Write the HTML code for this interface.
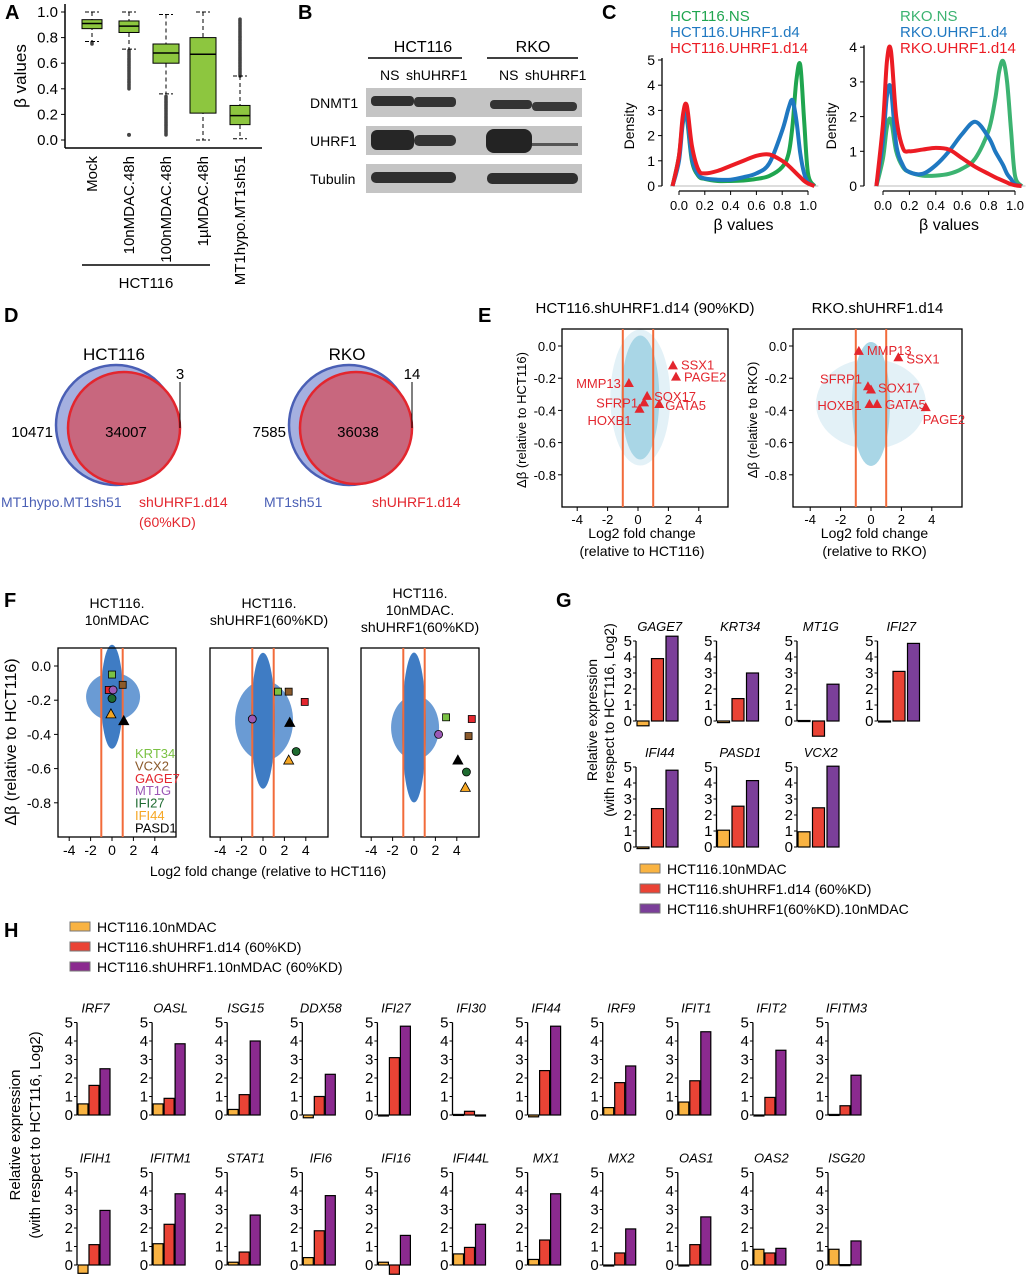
<!DOCTYPE html>
<html><head><meta charset="utf-8"><style>
body{margin:0;background:#fff}
svg{display:block;font-family:"Liberation Sans",Arial,sans-serif}
</style></head><body>
<svg id="fig" width="1035" height="1280" viewBox="0 0 1035 1280" xmlns="http://www.w3.org/2000/svg">
<g font-weight="bold" font-size="20">
<text x="5" y="19">A</text>
<text x="298" y="19">B</text>
<text x="602" y="19">C</text>
<text x="4" y="322">D</text>
<text x="478" y="322">E</text>
<text x="4" y="607">F</text>
<text x="556" y="607">G</text>
<text x="4" y="937">H</text>
</g>
<g font-size="14">
<text x="423" y="52" text-anchor="middle" font-size="16">HCT116</text>
<line x1="368" y1="58" x2="462" y2="58" stroke="#000" stroke-width="1.5"/>
<text x="533" y="52" text-anchor="middle" font-size="16">RKO</text>
<line x1="487" y1="58" x2="578" y2="58" stroke="#000" stroke-width="1.5"/>
<text x="380" y="80">NS</text><text x="406" y="80">shUHRF1</text>
<text x="499" y="80">NS</text><text x="525" y="80">shUHRF1</text>
<text x="310" y="108">DNMT1</text><text x="310" y="146">UHRF1</text><text x="310" y="184">Tubulin</text>
<rect x="366" y="88" width="216" height="29" fill="#c4c4c4"/>
<rect x="366" y="126" width="216" height="29" fill="#c4c4c4"/>
<rect x="366" y="164" width="216" height="29" fill="#c4c4c4"/>
<rect x="371" y="96" width="43" height="10" rx="4" fill="#2e2e2e"/><rect x="414" y="97" width="42" height="10" rx="4" fill="#333"/>
<rect x="490" y="100" width="42" height="9" rx="4" fill="#333"/><rect x="532" y="102" width="45" height="9" rx="4" fill="#383838"/>
<rect x="371" y="130" width="43" height="20" rx="6" fill="#262626"/><rect x="414" y="135" width="42" height="11" rx="5" fill="#333"/>
<rect x="486" y="129" width="46" height="24" rx="8" fill="#232323"/><rect x="532" y="143" width="46" height="3" fill="#555"/>
<rect x="371" y="172" width="85" height="11" rx="5" fill="#2e2e2e"/><rect x="487" y="173" width="91" height="11" rx="5" fill="#2e2e2e"/>
</g>
<g id="gA"></g><g id="gC"></g><g id="gD"></g><g id="gE"></g><g id="gF"></g><g id="gG"></g><g id="gH"></g>
</svg>
<script>
const NS='http://www.w3.org/2000/svg';
function el(p,t,a,txt){const e=document.createElementNS(NS,t);for(const k in a)e.setAttribute(k,a[k]);if(txt!==undefined)e.textContent=txt;p.appendChild(e);return e;}

const boxCats=['Mock','10nMDAC.48h','100nMDAC.48h','1\u00b5MDAC.48h','MT1hypo.MT1sh51'];
const boxQ1=[0.87,0.84,0.60,0.21,0.12];
const boxMed=[0.91,0.89,0.68,0.67,0.19];
const boxQ3=[0.94,0.93,0.75,0.80,0.27];
const boxLo=[0.77,0.71,0.36,0.00,0.01];
const boxHi=[1.00,1.00,0.98,1.00,0.50];
const outLo=[[0.75,0.77],[0.40,0.70],[0.04,0.35],[],[]];
const outHi=[[],[],[],[],[0.50,0.95]];
const outSingle=[[],[0.04],[],[],[]];
const aTicks=[0,0.2,0.4,0.6,0.8,1.0];
(function(){
 const g=document.getElementById('gA');
 
 
 const y=v=>140-v*128, xc=i=>92+i*37;
 el(g,'line',{x1:65,y1:4,x2:65,y2:148,stroke:'#000','stroke-width':1.5});
 el(g,'line',{x1:65,y1:148,x2:262,y2:148,stroke:'#000','stroke-width':1.5});
 aTicks.forEach(t=>{el(g,'line',{x1:61,y1:y(t),x2:65,y2:y(t),stroke:'#000'});
  const tx=el(g,'text',{x:58,y:y(t)+5,'text-anchor':'end','font-size':15},t.toFixed(1));
  });
 const yl=el(g,'text',{x:26,y:76,'text-anchor':'middle','font-size':17,transform:'rotate(-90 26 76)'},'\u03b2 values');
 
 boxCats.forEach((c,i)=>{
  const x=xc(i);
  const draw=(a,b)=>{for(let v=a;v<=b+1e-9;v+=0.012){el(g,'circle',{cx:x,cy:y(v),r:1.8,fill:'#444'});}};
  if(outLo[i].length)draw(outLo[i][0],outLo[i][1]);
  if(outHi[i].length)draw(outHi[i][0],outHi[i][1]);
  outSingle[i].forEach(v=>el(g,'circle',{cx:x,cy:y(v),r:2,fill:'#444'}));
  el(g,'line',{x1:x,y1:y(boxHi[i]),x2:x,y2:y(boxLo[i]),stroke:'#000','stroke-dasharray':'4,3'});
  el(g,'line',{x1:x-7,y1:y(boxHi[i]),x2:x+7,y2:y(boxHi[i]),stroke:'#000','stroke-dasharray':'4,2'});
  el(g,'line',{x1:x-7,y1:y(boxLo[i]),x2:x+7,y2:y(boxLo[i]),stroke:'#000','stroke-dasharray':'4,2'});
  const w=i===2||i===3?13:10;
  const b=el(g,'rect',{x:x-w,y:y(boxQ3[i]),width:2*w,height:y(boxQ1[i])-y(boxQ3[i]),fill:'#8dc63f',stroke:'#000'});
  
  el(g,'line',{x1:x-w,y1:y(boxMed[i]),x2:x+w,y2:y(boxMed[i]),stroke:'#000','stroke-width':1.5});
  const t=el(g,'text',{x:x+5,y:156,'text-anchor':'end','font-size':15,transform:`rotate(-90 ${x+5} 156)`},c);
  
 });
 el(g,'line',{x1:82,y1:265,x2:210,y2:265,stroke:'#000','stroke-width':1.5});
 el(g,'text',{x:146,y:288,'text-anchor':'middle','font-size':15},'HCT116');
})();

const cX=[-0.05,0,0.03,0.06,0.1,0.15,0.2,0.3,0.4,0.5,0.6,0.7,0.8,0.85,0.88,0.91,0.94,0.97,1.0,1.05];
const cL_NS=[0,1.2,2.6,2.7,1.0,0.4,0.28,0.2,0.2,0.22,0.28,0.4,0.75,1.3,2.4,4.2,4.8,2.6,0.5,0];
const cL_d4=[0,1.0,2.5,2.8,1.1,0.45,0.3,0.25,0.25,0.35,0.5,0.9,2.2,3.1,3.4,2.6,1.3,0.5,0.15,0];
const cL_d14=[0,1.2,2.8,3.2,1.6,0.65,0.5,0.6,0.8,1.0,1.2,1.25,1.0,0.8,0.65,0.5,0.35,0.2,0.1,0];
const cR_NS=[0,0.8,1.7,1.9,1.0,0.55,0.4,0.3,0.3,0.35,0.5,0.8,1.6,2.5,3.3,3.6,3.0,1.6,0.3,0];
const cR_d4=[0,1.3,2.6,2.8,1.2,0.6,0.4,0.35,0.6,1.0,1.5,1.85,1.4,1.0,0.8,0.6,0.35,0.2,0.05,0];
const cR_d14=[0,1.8,3.6,3.9,2.0,1.1,1.0,1.05,1.1,1.05,0.8,0.55,0.35,0.25,0.2,0.15,0.1,0.05,0.02,0];
const cXTicks=[0,0.2,0.4,0.6,0.8,1.0];
function smooth(pts){let d='M'+pts[0][0]+','+pts[0][1];for(let i=0;i<pts.length-1;i++){const p0=pts[Math.max(i-1,0)],p1=pts[i],p2=pts[i+1],p3=pts[Math.min(i+2,pts.length-1)];
 d+=` C${p1[0]+(p2[0]-p0[0])/6},${p1[1]+(p2[1]-p0[1])/6} ${p2[0]-(p3[0]-p1[0])/6},${p2[1]-(p3[1]-p1[1])/6} ${p2[0]},${p2[1]}`;}return d;}
(function(){
 const g=document.getElementById('gC');
 
 
 function plot(ax,x0,x1px,y0,ppu,yMax,series,names,legX,side){
  const X=v=>x0+v*x1px, Y=v=>y0-v*ppu;
  el(g,'line',{x1:ax,y1:Y(yMax)-2,x2:ax,y2:y0,stroke:'#000','stroke-width':1.3});
  el(g,'line',{x1:X(0),y1:y0+5,x2:X(1),y2:y0+5,stroke:'#000','stroke-width':1.3});
  el(g,'line',{x1:X(-0.07),y1:y0,x2:X(1.08),y2:y0,stroke:'#bbb'});
  for(let t=0;t<=yMax;t++){el(g,'line',{x1:ax-4,y1:Y(t),x2:ax,y2:Y(t),stroke:'#000'});
   const tx=el(g,'text',{x:ax-7,y:Y(t)+5,'text-anchor':'end','font-size':14},t);
   }
  cXTicks.forEach(t=>{el(g,'line',{x1:X(t),y1:y0+5,x2:X(t),y2:y0+9,stroke:'#000'});
   const tx=el(g,'text',{x:X(t),y:y0+24,'text-anchor':'middle','font-size':13},t.toFixed(1));
   });
  const cols=['#1fa54f','#1f78c1','#ec1c24'];
  series.forEach((s,k)=>{const p=el(g,'path',{d:smooth(cX.map((v,i)=>[X(v),Y(s[i])])),fill:'none',stroke:k===0&&side?'#3cb371':cols[k],'stroke-width':4,'stroke-linejoin':'round'});
   
   const l=el(g,'text',{x:legX,y:21+k*16,'font-size':15,fill:k===0&&side?'#3cb371':cols[k]},names[k]);
   });
  el(g,'text',{x:(X(0)+X(1))/2,y:y0+44,'text-anchor':'middle','font-size':16},'\u03b2 values');
  const yx=ax-28, yy=y0-60;
  el(g,'text',{x:yx,y:yy,'text-anchor':'middle','font-size':14,transform:`rotate(-90 ${yx} ${yy})`},'Density');
 }
 plot(662,679,129,186,25.2,5,[cL_NS,cL_d4,cL_d14],['HCT116.NS','HCT116.UHRF1.d4','HCT116.UHRF1.d14'],670,0);
 plot(864,883,132,186,34.7,4,[cR_NS,cR_d4,cR_d14],['RKO.NS','RKO.UHRF1.d4','RKO.UHRF1.d14'],900,1);
})();

(function(){
 const g=document.getElementById('gD');
 
 
 function venn(bx,rx,title,big,left,right,lb,rb,lbx,rbx){
  el(g,'circle',{cx:bx,cy:425,r:60,fill:'#a5b0e0',stroke:'#4a5fb5','stroke-width':2.5});
  el(g,'circle',{cx:rx,cy:428,r:56,fill:'#c8677e',stroke:'#e3262e','stroke-width':2.5});
  el(g,'text',{x:bx-2,y:360,'text-anchor':'middle','font-size':17},title);
  el(g,'text',{x:rx+2,y:437,'text-anchor':'middle','font-size':15},big);
  el(g,'text',{x:bx-63,y:437,'text-anchor':'end','font-size':15},left);
  el(g,'text',{x:rx+56,y:379,'text-anchor':'middle','font-size':15},right);
  el(g,'line',{x1:rx+56,y1:382,x2:rx+56,y2:428,stroke:'#000'});
  el(g,'text',{x:lbx,y:507,'font-size':14,fill:'#4a5fb5'},lb);
  el(g,'text',{x:rbx,y:507,'font-size':14,fill:'#e3262e'},rb);
 }
 venn(116,124,'HCT116','34007','10471','3','MT1hypo.MT1sh51','shUHRF1.d14',1,139);
 el(g,'text',{x:139,y:527,'font-size':14,fill:'#e3262e'},'(60%KD)');
 venn(349,356,'RKO','36038','7585','14','MT1sh51','shUHRF1.d14',264,372);
})();

const eL_genes=['SSX1','PAGE2','MMP13','SOX17','SFRP1','GATA5','HOXB1'];
const eL_fc=[2.3,2.5,-0.6,0.6,0.4,1.4,0.1];
const eL_db=[-0.12,-0.19,-0.23,-0.31,-0.35,-0.36,-0.39];
const eR_genes=['MMP13','SSX1','SFRP1','SOX17','HOXB1','GATA5','PAGE2'];
const eR_fc=[-0.8,1.8,-0.2,0.0,-0.1,0.4,3.6];
const eR_db=[-0.03,-0.07,-0.25,-0.27,-0.36,-0.36,-0.38];
const eXTicks=[-4,-2,0,2,4];
const eYTicks=[0,-0.2,-0.4,-0.6,-0.8];
(function(){
 const g=document.getElementById('gE');
 
 
 function plot(bx0,bx1,x0,title,genes,fc,db,labPos,xl2,ylab,cx,cyv,halo){
  const X=v=>x0+v*15.2, Y=v=>346-v*161;
  el(g,'text',{x:(bx0+bx1)/2,y:313,'text-anchor':'middle','font-size':15},title);
  el(g,'ellipse',{cx:X(cx),cy:Y(cyv),rx:halo[0],ry:halo[1],fill:'#e3f1f7'});
  el(g,'ellipse',{cx:X(cx),cy:Y(cyv),rx:19,ry:62,fill:'#a9d6e6'});
  el(g,'rect',{x:bx0,y:329,width:bx1-bx0,height:178,fill:'none',stroke:'#000','stroke-width':1.3});
  [-1,1].forEach(v=>el(g,'line',{x1:X(v),y1:329,x2:X(v),y2:507,stroke:'#f26b3a','stroke-width':2}));
  eXTicks.forEach(t=>{el(g,'line',{x1:X(t),y1:507,x2:X(t),y2:511,stroke:'#000'});
   const tx=el(g,'text',{x:X(t),y:524,'text-anchor':'middle','font-size':13},t);
   });
  eYTicks.forEach(t=>{el(g,'line',{x1:bx0-4,y1:Y(t),x2:bx0,y2:Y(t),stroke:'#000'});
   const tx=el(g,'text',{x:bx0-6,y:Y(t)+5,'text-anchor':'end','font-size':13},t.toFixed(1));
   });
  genes.forEach((gn,i)=>{const x=X(fc[i]),y=Y(db[i]);
   const m=el(g,'path',{d:`M${x},${y-5}L${x+5},${y+4}L${x-5},${y+4}Z`,fill:'#e3262e'});
   
   const lp=labPos[i];
   el(g,'text',{x:x+lp[0],y:y+lp[1],'text-anchor':lp[2],'font-size':13,fill:'#e3262e'},gn);});
  el(g,'text',{x:(bx0+bx1)/2-3,y:538,'text-anchor':'middle','font-size':14},'Log2 fold change');
  el(g,'text',{x:(bx0+bx1)/2-3,y:556,'text-anchor':'middle','font-size':14},xl2);
  const yx=bx0-36;
  el(g,'text',{x:yx,y:420,'text-anchor':'middle','font-size':13,transform:`rotate(-90 ${yx} 420)`},ylab);
 }
 plot(562,728,638,'HCT116.shUHRF1.d14 (90%KD)',eL_genes,eL_fc,eL_db,
  [[8,4,'start'],[8,5,'start'],[-8,5,'end'],[7,5,'start'],[-6,5,'end'],[6,6,'start'],[-8,16,'end']],
  '(relative to HCT116)','\u0394\u03b2 (relative to HCT116)',0.15,-0.32,[30,68]);
 plot(793,962,871,'RKO.shUHRF1.d14',eR_genes,eR_fc,eR_db,
  [[8,4,'start'],[8,6,'start'],[-6,-3,'end'],[7,3,'start'],[-8,6,'end'],[8,5,'start'],[-3,17,'start']],
  '(relative to RKO)','\u0394\u03b2 (relative to RKO)',0,-0.36,[55,45]);
})();

const fGenes=['KRT34','VCX2','GAGE7','MT1G','IFI27','IFI44','PASD1'];
const fColors=['#7ac143','#8b5a2b','#e3262e','#9b59b6','#1e6b30','#f5a623','#000'];
const fShapes=['sq','sq','sq','ci','ci','tr','tr'];
const f1_fc=[0,1,-0.3,0.1,0,-0.1,1.1];
const f1_db=[-0.05,-0.11,-0.14,-0.14,-0.19,-0.28,-0.32];
const f2_fc=[1.4,2.4,3.9,-1,3.1,2.4,2.5];
const f2_db=[-0.15,-0.15,-0.21,-0.31,-0.50,-0.55,-0.33];
const f3_fc=[3,5.1,5.4,2.3,4.9,4.8,4.1];
const f3_db=[-0.30,-0.41,-0.31,-0.40,-0.62,-0.71,-0.55];
const fXTicks=[-4,-2,0,2,4];
const fYTicks=[0,-0.2,-0.4,-0.6,-0.8];
(function(){
 const g=document.getElementById('gF');
 
 
 function plot(bx0,x0,titles,fc,db,cyv,core,halo,axisLabels){
  const bx1=bx0+118, X=v=>x0+v*10.7, Y=v=>666-v*171;
  titles.forEach((t,i)=>el(g,'text',{x:(bx0+bx1)/2,y:(titles.length===3?598:608)+i*17,'text-anchor':'middle','font-size':14},t));
  el(g,'ellipse',{cx:X(0.1),cy:Y(cyv),rx:halo[0],ry:halo[1],fill:'#6a9bd4'});
  el(g,'ellipse',{cx:X(0),cy:Y(cyv),rx:core[0],ry:core[1],fill:'#3f7cc4'});
  el(g,'rect',{x:bx0,y:648,width:118,height:189,fill:'none',stroke:'#000','stroke-width':1.3});
  [-1,1].forEach(v=>el(g,'line',{x1:X(v),y1:648,x2:X(v),y2:837,stroke:'#f26b3a','stroke-width':2}));
  fXTicks.forEach(t=>{el(g,'line',{x1:X(t),y1:837,x2:X(t),y2:841,stroke:'#000'});
   const tx=el(g,'text',{x:X(t),y:855,'text-anchor':'middle','font-size':14},t);
   });
  if(axisLabels)fYTicks.forEach(t=>{el(g,'line',{x1:bx0-4,y1:Y(t),x2:bx0,y2:Y(t),stroke:'#000'});
   const tx=el(g,'text',{x:bx0-7,y:Y(t)+5,'text-anchor':'end','font-size':14},t.toFixed(1));
   });
  fGenes.forEach((gn,i)=>{const x=X(fc[i]),y=Y(db[i]);let m;
   if(fShapes[i]==='sq')m=el(g,'rect',{x:x-3.5,y:y-3.5,width:7,height:7,fill:fColors[i],stroke:'#000','stroke-width':0.8});
   else if(fShapes[i]==='ci')m=el(g,'circle',{cx:x,cy:y,r:4,fill:fColors[i],stroke:'#000','stroke-width':0.8});
   else m=el(g,'path',{d:`M${x},${y-5}L${x+5},${y+4}L${x-5},${y+4}Z`,fill:fColors[i],stroke:'#000','stroke-width':0.8});
   });
 }
 plot(58,112,['HCT116.','10nMDAC'],f1_fc,f1_db,-0.18,[11,52],[27,24],true);
 plot(210,263,['HCT116.','shUHRF1(60%KD)'],f2_fc,f2_db,-0.32,[12,68],[29,40],false);
 plot(361,414,['HCT116.','10nMDAC.','shUHRF1(60%KD)'],f3_fc,f3_db,-0.36,[12,75],[24,32],false);
 fGenes.forEach((gn,i)=>{const t=el(g,'text',{x:135,y:758+i*12.4,'font-size':13,fill:fColors[i]},gn);
  });
 el(g,'text',{x:16,y:742,'text-anchor':'middle','font-size':16,transform:'rotate(-90 16 742)'},'\u0394\u03b2 (relative to HCT116)');
 el(g,'text',{x:268,y:876,'text-anchor':'middle','font-size':14},'Log2 fold change (relative to HCT116)');
})();

const gGenes=['GAGE7','KRT34','MT1G','IFI27','IFI44','PASD1','VCX2'];
const gDAC=[-0.3,-0.1,0.03,-0.05,-0.1,1.05,0.95];
const gSh=[3.9,1.4,-0.95,3.1,2.4,2.55,2.45];
const gCombo=[5.3,3.0,2.3,4.85,4.8,4.15,5.05];
const hGenes=['IRF7','OASL','ISG15','DDX58','IFI27','IFI30','IFI44','IRF9','IFIT1','IFIT2','IFITM3',
 'IFIH1','IFITM1','STAT1','IFI6','IFI16','IFI44L','MX1','MX2','OAS1','OAS2','ISG20'];
const hDAC=[0.6,0.6,0.3,-0.15,-0.05,0.03,-0.1,0.4,0.7,-0.03,0.03, -0.45,1.15,0.15,0.4,0.15,0.6,0.3,-0.05,-0.03,0.85,0.85];
const hSh=[1.6,0.9,1.1,1.0,3.1,0.2,2.4,1.75,1.85,0.95,0.5, 1.1,2.2,0.7,1.85,-0.5,0.95,1.35,0.65,1.1,0.65,0.02];
const hCombo=[2.5,3.85,4.0,2.2,4.8,-0.05,4.8,2.65,4.5,3.5,2.15, 2.95,3.85,2.7,3.75,1.6,2.2,3.85,1.95,2.6,0.9,1.3];
const yTicks=[0,1,2,3,4,5];
const colDAC='#f9b342', colSh='#ea4335';
function minibar(g,ax,base,ppu,gene,vals,cols,bw,step,fs,tfs){
 const Y=v=>base-v*ppu;
 const t=el(g,'text',{x:ax+step*1.5+2,y:Y(5)-10,'text-anchor':'middle','font-size':tfs,'font-style':'italic'},gene);
 
 vals.forEach((v,k)=>{const y1=Math.min(Y(v),base),h=Math.max(Math.abs(Y(v)-base),1);
  const b=el(g,'rect',{x:ax+1+k*step,y:y1,width:bw,height:h,fill:cols[k],stroke:'#000','stroke-width':1.2});
  });
 el(g,'line',{x1:ax,y1:Y(5),x2:ax,y2:base,stroke:'#000','stroke-width':1.3});
 yTicks.forEach(tk=>{el(g,'line',{x1:ax-3,y1:Y(tk),x2:ax,y2:Y(tk),stroke:'#000'});
  const tx=el(g,'text',{x:ax-4,y:Y(tk)+5,'text-anchor':'end','font-size':fs},tk);
  });
}
(function(){
 const g=document.getElementById('gG');
 
 
 const cols=[colDAC,colSh,'#7b3f99'];
 gGenes.forEach((gn,i)=>{const r=i<4?0:1,c=i<4?i:i-4;
  minibar(g,636+c*80.5,r?847:721,16,gn,[gDAC[i],gSh[i],gCombo[i]],cols,12,14.5,15,13);});
 el(g,'text',{x:597,y:720,'text-anchor':'middle','font-size':14,transform:'rotate(-90 597 720)'},'Relative expression');
 el(g,'text',{x:614,y:720,'text-anchor':'middle','font-size':14,transform:'rotate(-90 614 720)'},'(with respect to HCT116, Log2)');
 ['HCT116.10nMDAC','HCT116.shUHRF1.d14 (60%KD)','HCT116.shUHRF1(60%KD).10nMDAC'].forEach((s,i)=>{
  el(g,'rect',{x:640,y:864+i*20,width:20,height:9,fill:cols[i],stroke:'#777'});
  const t=el(g,'text',{x:667,y:874+i*20,'font-size':14},s);
  });
})();
(function(){
 const g=document.getElementById('gH');
 
 
 const cols=[colDAC,colSh,'#8b2a8f'];
 hGenes.forEach((gn,i)=>{const r=i<11?0:1,c=i%11;
  minibar(g,77+c*75.1,r?1265:1115,18.5,gn,[hDAC[i],hSh[i],hCombo[i]],cols,10,11,15,13);});
 el(g,'text',{x:20,y:1135,'text-anchor':'middle','font-size':15,transform:'rotate(-90 20 1135)'},'Relative expression');
 el(g,'text',{x:40,y:1135,'text-anchor':'middle','font-size':15,transform:'rotate(-90 40 1135)'},'(with respect to HCT116, Log2)');
 ['HCT116.10nMDAC','HCT116.shUHRF1.d14 (60%KD)','HCT116.shUHRF1.10nMDAC (60%KD)'].forEach((s,i)=>{
  el(g,'rect',{x:70,y:922+i*20,width:20,height:9,fill:cols[i],stroke:'#777'});
  const t=el(g,'text',{x:97,y:932+i*20,'font-size':14},s);
  });
})();
</script>
</body></html>
